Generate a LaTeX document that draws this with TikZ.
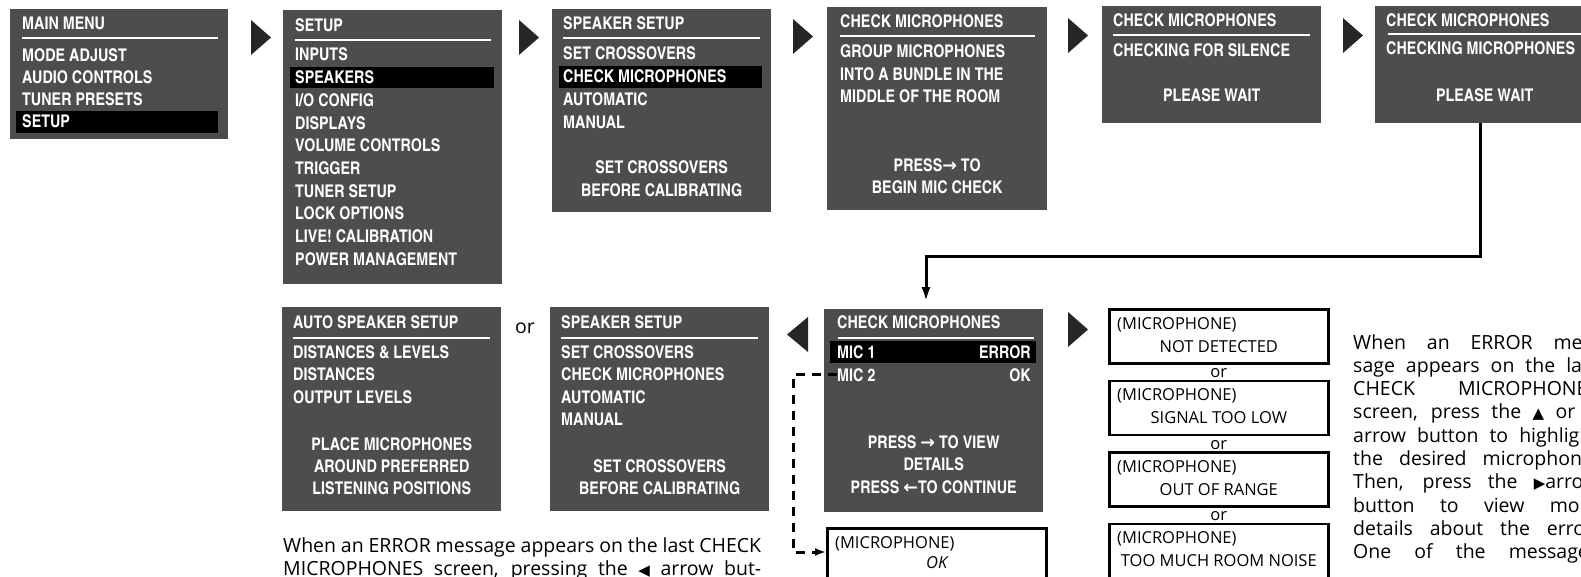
\documentclass[tikz,border=0pt]{standalone}
\usepackage{fontspec}
\usetikzlibrary{arrows.meta}
\setmainfont{Open Sans}
\newfontfamily\scrfont{texgyreheroscn-bold}[Extension=.otf]
\newfontfamily\symfont{DejaVu Sans}
\newcommand{\btnsym}[1]{{\symfont\fontsize{15}{15}\selectfont #1}}
\definecolor{screengray}{HTML}{4D4D4D}

\begin{document}
\begin{tikzpicture}[x=1pt, y=-1pt,
    screen/.style={fill=screengray, inner sep=0pt, anchor=north west},
    scrtext/.style={text=white, font=\scrfont\fontsize{17.5}{20}\selectfont, inner sep=0pt, anchor=base west},
    scrmid/.style={scrtext, anchor=base},
    scrrule/.style={draw=white, line width=2.6pt},
    hlbar/.style={fill=black},
    msgbox/.style={draw=black, line width=2.6pt, inner sep=0pt, anchor=north west, minimum width=219pt, minimum height=54pt},
    msgtext/.style={font=\fontsize{16.5}{20}\selectfont, inner sep=0pt, anchor=base west},
    bodytext/.style={font=\fontsize{19.5}{20}\selectfont, inner sep=0pt, anchor=base west},
    link/.style={line width=3pt, -{Latex[length=15pt, width=9pt]}},
    dashlink/.style={line width=3pt, dash pattern=on 9pt off 7pt, -{Latex[length=11pt, width=8pt]}},
    navtri/.style={fill=black!85}]

    % Page
    \path[use as bounding box, clip] (0,0) rectangle (1581,577);

    % Main menu
    \node[screen, minimum width=218pt, minimum height=130pt] (s1) at (10,9) {};
    \fill[hlbar] (16,111) rectangle (218,133);
    \node[scrtext] (s1-t) at (22,30) {MAIN MENU};
    \draw[scrrule] (22,38) -- (218,38);
    \foreach \t [count=\i] in {MODE ADJUST, AUDIO CONTROLS, TUNER PRESETS, SETUP}
        \node[scrtext] (s1-\i) at (22,{62+22*(\i-1)}) {\t};

    % Setup
    \node[screen, minimum width=219pt, minimum height=274pt] (s2) at (283,10) {};
    \fill[hlbar] (290,67) rectangle (494,88);
    \node[scrtext] (s2-t) at (295,32) {SETUP};
    \draw[scrrule] (295,40) -- (491,40);
    \foreach \t [count=\i] in {INPUTS, SPEAKERS, I/O CONFIG, DISPLAYS, VOLUME CONTROLS,
        TRIGGER, TUNER SETUP, LOCK OPTIONS, LIVE! CALIBRATION, POWER MANAGEMENT}
        \node[scrtext] (s2-\i) at (295,{61+22.7*(\i-1)}) {\t};

    % Speaker setup
    \node[screen, minimum width=219pt, minimum height=203pt] (s3) at (552,9) {};
    \fill[hlbar] (559,66) rectangle (762,88);
    \node[scrtext] (s3-t) at (563,30) {SPEAKER SETUP};
    \draw[scrrule] (563,38) -- (760,38);
    \foreach \t [count=\i] in {SET CROSSOVERS, CHECK MICROPHONES, AUTOMATIC, MANUAL}
        \node[scrtext] (s3-\i) at (563,{60+22.7*(\i-1)}) {\t};
    \node[scrmid] (s3-a) at ([shift={(0,165)}]s3.north) {SET CROSSOVERS};
    \node[scrmid] (s3-b) at ([shift={(0,188)}]s3.north) {BEFORE CALIBRATING};

    % Check microphones: group
    \node[screen, minimum width=220pt, minimum height=203pt] (s4) at (827,7) {};
    \node[scrtext] (s4-t) at (840,28) {CHECK MICROPHONES};
    \draw[scrrule] (840,36) -- (1035,36);
    \foreach \t [count=\i] in {GROUP MICROPHONES, INTO A BUNDLE IN THE, MIDDLE OF THE ROOM}
        \node[scrtext] (s4-\i) at (840,{58+22.5*(\i-1)}) {\t};
    \node[scrmid] (s4-a) at ([shift={(0,165)}]s4.north) {PRESS{\symfont\bfseries→} TO};
    \node[scrmid] (s4-b) at ([shift={(0,187)}]s4.north) {BEGIN MIC CHECK};

    % Check microphones: silence
    \node[screen, minimum width=219pt, minimum height=117pt] (s5) at (1102,6) {};
    \node[scrtext] (s5-t) at (1113,27) {CHECK MICROPHONES};
    \draw[scrrule] (1113,35) -- (1310,35);
    \node[scrtext] (s5-1) at (1113,57) {CHECKING FOR SILENCE};
    \node[scrmid] (s5-a) at ([shift={(0,96)}]s5.north) {PLEASE WAIT};

    % Check microphones: checking
    \node[screen, minimum width=219pt, minimum height=117pt] (s6) at (1375,6) {};
    \node[scrtext] (s6-t) at (1386,27) {CHECK MICROPHONES};
    \draw[scrrule] (1388,34) -- (1583,34);
    \node[scrtext] (s6-1) at (1386,55) {CHECKING MICROPHONES};
    \node[scrmid] (s6-a) at ([shift={(0,96)}]s6.north) {PLEASE WAIT};

    % Auto speaker setup
    \node[screen, minimum width=219pt, minimum height=204pt] (s7) at (282,307) {};
    \node[scrtext] (s7-t) at (293,328) {AUTO SPEAKER SETUP};
    \draw[scrrule] (293,338) -- (490,338);
    \foreach \t [count=\i] in {DISTANCES \& LEVELS, DISTANCES, OUTPUT LEVELS}
        \node[scrtext] (s7-\i) at (293,{358+22.5*(\i-1)}) {\t};
    \foreach \t [count=\i] in {PLACE MICROPHONES, AROUND PREFERRED, LISTENING POSITIONS}
        \node[scrmid] (s7-m\i) at ([shift={(0,{121+22*\i})}]s7.north) {\t};

    \node[bodytext, anchor=base] (or0) at (525,333) {or};

    % Speaker setup again
    \node[screen, minimum width=219pt, minimum height=204pt] (s8) at (550,307) {};
    \node[scrtext] (s8-t) at (561,328) {SPEAKER SETUP};
    \draw[scrrule] (561,338) -- (758,338);
    \foreach \t [count=\i] in {SET CROSSOVERS, CHECK MICROPHONES, AUTOMATIC, MANUAL}
        \node[scrtext] (s8-\i) at (561,{358+22.5*(\i-1)}) {\t};
    \node[scrmid] (s8-a) at ([shift={(0,165)}]s8.north) {SET CROSSOVERS};
    \node[scrmid] (s8-b) at ([shift={(0,187)}]s8.north) {BEFORE CALIBRATING};

    % Check microphones: result
    \node[screen, minimum width=219pt, minimum height=203pt] (s9) at (824,309) {};
    \fill[hlbar] (830,341) rectangle (1036,363);
    \node[scrtext] (s9-t) at (837,328) {CHECK MICROPHONES};
    \draw[scrrule] (838,338) -- (1034,338);
    \node[scrtext] (s9-1) at (837,358) {MIC 1};
    \node[scrtext, anchor=base east] (s9-1e) at (1031,358) {ERROR};
    \node[scrtext] (s9-2) at (837,381) {MIC 2};
    \node[scrtext, anchor=base east] (s9-2e) at (1031,381) {OK};
    \node[scrmid] (s9-a) at ([shift={(0,139)}]s9.north) {PRESS {\symfont\bfseries→} TO VIEW};
    \node[scrmid] (s9-b) at ([shift={(0,161)}]s9.north) {DETAILS};
    \node[scrmid] (s9-c) at ([shift={(0,184)}]s9.north) {PRESS {\symfont\bfseries←}TO CONTINUE};

    % Arrow buttons
    \foreach \x/\y in {251/20, 519/20, 793/19, 1068/18, 1343/18, 1068/312}
        \fill[navtri] (\x,\y) -- ++(20,17.5) -- ++(-20,17.5) -- cycle;
    \fill[navtri] (808,317) -- ++(-21,17.5) -- ++(21,17.5) -- cycle;

    % Messages
    \foreach \t [count=\i] in {NOT DETECTED, SIGNAL TOO LOW, OUT OF RANGE, TOO MUCH ROOM NOISE} {
        \node[msgbox] (m\i) at (1108,{308+71.5*(\i-1)}) {};
        \node[msgtext] (m\i-a) at ([shift={(9,21)}]m\i.north west) {(MICROPHONE)};
        \node[msgtext, anchor=base] (m\i-b) at ([shift={(0,44)}]m\i.north) {\t};
    }
    \foreach \i in {1,2,3}
        \node[msgtext, anchor=base] (or\i) at ([shift={(0,13)}]m\i.south) {or};

    \node[msgbox, minimum height=64pt] (okbox) at (826,527) {};
    \node[msgtext] (ok-a) at ([shift={(9,21)}]okbox.north west) {(MICROPHONE)};
    \node[msgtext, anchor=base] (ok-b) at ([shift={(0,41)}]okbox.north) {\itshape OK};

    % Connectors
    \coordinate (drop) at (926,257);
    \draw[link, shorten >=7pt] ([xshift=-4pt]s6.south) |- (drop) -- (drop |- s9.north);
    \coordinate (bend) at (793,552);
    \draw[dashlink] (s9-2.west) -| (bend) -- (bend -| okbox.west);

    % Notes
    \node[bodytext] (note1-1) at (283,552) {\makebox[478pt][s]{When an ERROR message appears on the last CHECK}};
    \node[bodytext] (note1-2) at (283,575.5) {\makebox[478pt][s]{MICROPHONES screen, pressing the \btnsym{◀} arrow but-}};
    \foreach \t [count=\i] in {When an ERROR mes-, sage appears on the last, CHECK MICROPHONES,
        {screen, press the \btnsym{▲} or \btnsym{▼}}, arrow button to highlight, the desired microphone.,
        {Then, press the \btnsym{▶}arrow}, button to view more, details about the error., One of the messages}
        \node[bodytext] (note2-\i) at (1353,{349+23.3*(\i-1)}) {\makebox[245pt][s]{\t}};

\end{tikzpicture}
\end{document}
